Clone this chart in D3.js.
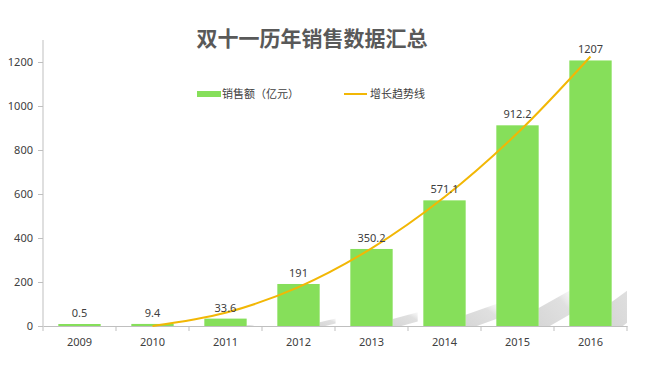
<!DOCTYPE html>
<html>
<head>
<meta charset="utf-8">
<script src="https://cdn.jsdelivr.net/npm/d3@7"></script>
<style>
  body { margin: 0; background: #fff; }
  text { font-family: "Noto Sans CJK SC", "Noto Sans", sans-serif; }
</style>
</head>
<body>
<div id="chart"></div>
<script>
var years = ["2009", "2010", "2011", "2012", "2013", "2014", "2015", "2016"];
var sales = [0.5, 9.4, 33.6, 191, 350.2, 571.1, 912.2, 1207];
var salesLabels = ["0.5", "9.4", "33.6", "191", "350.2", "571.1", "912.2", "1207"];
// trend line (drawn from 2010 on)
var trendYears = ["2010", "2011", "2012", "2013", "2014", "2015", "2016"];
var trendValues = [0, 60, 177, 353, 586, 877, 1225];
var yTicks = [0, 200, 400, 600, 800, 1000, 1200];

var width = 663, height = 370;
var margin = {top: 40, right: 36, bottom: 44, left: 43};

var svg = d3.select('#chart').append('svg')
    .attr('width', width)
    .attr('height', height);

svg.append('rect').attr('width', width).attr('height', height).attr('fill', '#fff');

var x = d3.scaleBand()
    .domain(years)
    .range([margin.left, width - margin.right])
    .paddingInner(0.42)
    .paddingOuter(0.21);

var xEdge = d3.scaleLinear()
    .domain([0, years.length])
    .range([margin.left, width - margin.right]);

var y = d3.scaleLinear()
    .domain([0, 1300])
    .range([height - margin.bottom, margin.top]);

var y0 = y(0);

// gradient for the bar shadows
var defs = svg.append('defs');
var grad = defs.append('linearGradient')
    .attr('id', 'shadow')
    .attr('x1', '0').attr('y1', '1').attr('x2', '1').attr('y2', '0');
grad.append('stop').attr('offset', '0%').attr('stop-color', '#d2d2d2').attr('stop-opacity', 0.9);
grad.append('stop').attr('offset', '70%').attr('stop-color', '#d8d8d8').attr('stop-opacity', 0.8);
grad.append('stop').attr('offset', '100%').attr('stop-color', '#e8e8e8').attr('stop-opacity', 0.3);

var clip = defs.append('clipPath').attr('id', 'plotclip');
clip.append('rect')
    .attr('x', margin.left)
    .attr('y', margin.top)
    .attr('width', width - margin.right - margin.left)
    .attr('height', y0 - margin.top);

// shadows behind the bars
svg.append('g').attr('clip-path', 'url(#plotclip)')
  .selectAll('path')
  .data(sales)
  .enter()
  .append('path')
  .attr('fill', 'url(#shadow)')
  .attr('d', function(d, i) {
      var xr = x(years[i]) + x.bandwidth();
      var h = y0 - y(d);
      var len = Math.min(32, h * 0.26 + 5);
      return 'M' + xr + ',' + y0 +
             'L' + xr + ',' + (y0 - h * 0.09) +
             'L' + (xr + len) + ',' + (y0 - h * 0.18) +
             'L' + (xr + len) + ',' + (y0 - h * 0.06) +
             'L' + (xr + len * 0.35) + ',' + y0 + 'Z';
  });

// bars
svg.append('g')
  .selectAll('rect')
  .data(sales)
  .enter()
  .append('rect')
  .attr('x', function(d, i) { return x(years[i]); })
  .attr('y', function(d) { return Math.min(y(d), y0 - 2); })
  .attr('width', x.bandwidth())
  .attr('height', function(d) { return Math.max(y0 - y(d), 2); })
  .attr('fill', '#86df5a');

// y axis
var yAxis = svg.append('g')
    .attr('transform', 'translate(' + margin.left + ',0)')
    .call(d3.axisLeft(y).tickValues(yTicks).tickFormat(d3.format('d')).tickSize(5).tickPadding(5));
yAxis.select('.domain').attr('stroke', '#bfbfbf').attr('d', 'M0,' + margin.top + 'V' + y0);
yAxis.selectAll('.tick line').attr('stroke', '#bfbfbf');
yAxis.selectAll('.tick text')
    .attr('fill', '#404040')
    .style('font-size', '11px')
    .style('font-family', '"Noto Sans", sans-serif');

// x axis
var xAxis = svg.append('g')
    .attr('transform', 'translate(0,' + y0 + ')')
    .call(d3.axisBottom(x).tickSize(0).tickPadding(12));
xAxis.select('.domain').attr('stroke', '#bfbfbf');
xAxis.selectAll('.tick text')
    .attr('fill', '#404040')
    .style('font-size', '11px')
    .style('font-family', '"Noto Sans", sans-serif');
xAxis.selectAll('.edge')
    .data(d3.range(years.length + 1))
    .enter()
    .append('line')
    .attr('class', 'edge')
    .attr('x1', function(d) { return xEdge(d); })
    .attr('x2', function(d) { return xEdge(d); })
    .attr('y1', 0)
    .attr('y2', 5)
    .attr('stroke', '#bfbfbf');

// trend line
var line = d3.line()
    .curve(d3.curveCatmullRom)
    .x(function(d, i) { return x(trendYears[i]) + x.bandwidth() / 2; })
    .y(function(d) { return y(d); });

svg.append('path')
    .datum(trendValues)
    .attr('fill', 'none')
    .attr('stroke', '#f2b705')
    .attr('stroke-width', 2)
    .attr('d', line);

// value labels
svg.append('g')
  .selectAll('text')
  .data(sales)
  .enter()
  .append('text')
  .attr('x', function(d, i) { return x(years[i]) + x.bandwidth() / 2; })
  .attr('y', function(d) { return Math.min(y(d), y0 - 2) - 7; })
  .attr('text-anchor', 'middle')
  .attr('fill', '#404040')
  .style('font-size', '11px')
  .style('font-family', '"Noto Sans", sans-serif')
  .text(function(d, i) { return salesLabels[i]; });

// title
svg.append('text')
    .attr('x', 312)
    .attr('y', 46)
    .attr('text-anchor', 'middle')
    .attr('fill', '#595959')
    .attr('font-weight', 'bold')
    .style('font-size', '21px')
    .text('双十一历年销售数据汇总');

// legend
var legend = svg.append('g');
legend.append('rect')
    .attr('x', 197).attr('y', 91)
    .attr('width', 24).attr('height', 6)
    .attr('fill', '#86df5a');
legend.append('text')
    .attr('x', 222).attr('y', 98)
    .attr('fill', '#404040')
    .style('font-size', '11px')
    .text('销售额（亿元）');
legend.append('line')
    .attr('x1', 344).attr('x2', 367)
    .attr('y1', 94).attr('y2', 94)
    .attr('stroke', '#f2b705')
    .attr('stroke-width', 2);
legend.append('text')
    .attr('x', 370).attr('y', 98)
    .attr('fill', '#404040')
    .style('font-size', '11px')
    .text('增长趋势线');
</script>
</body>
</html>
